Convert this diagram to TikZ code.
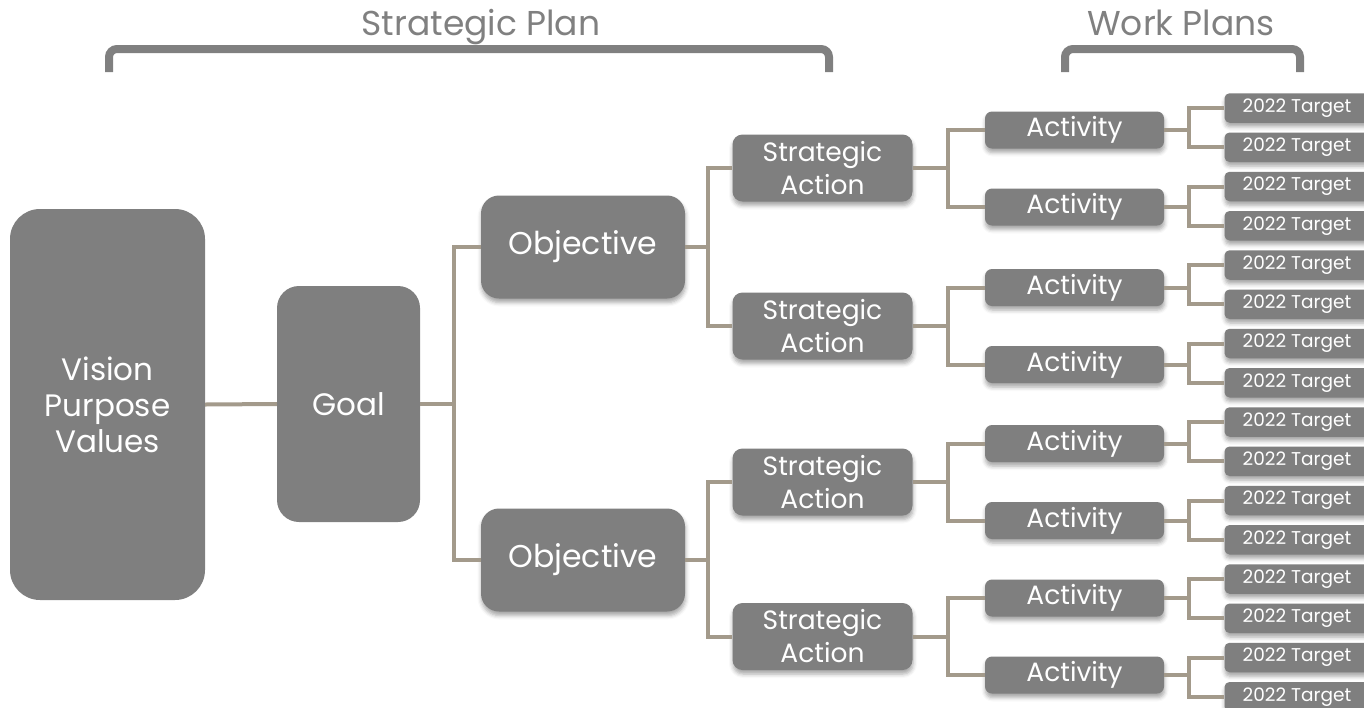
\documentclass[tikz,border=0pt]{standalone}
\usepackage{fontspec}
\setmainfont{Poppins}
\usetikzlibrary{shadows.blur,calc}
\definecolor{boxgray}{HTML}{7F7F7F}
\definecolor{linktaupe}{HTML}{A39A8B}
\definecolor{headgray}{HTML}{808080}
\tikzset{
  box/.style={rectangle, fill=boxgray, text=white, align=center, inner sep=0pt},
  shadowed/.style={blur shadow={shadow xshift=0.5pt, shadow yshift=-4pt, shadow blur radius=4pt, shadow opacity=35}},
  visbox/.style={box, minimum width=195pt, minimum height=391pt, rounded corners=30pt, font=\fontsize{31}{36}\selectfont},
  goalbox/.style={box, minimum width=143pt, minimum height=236pt, rounded corners=22pt, font=\fontsize{31}{36}\selectfont},
  objbox/.style={box, shadowed, minimum width=204pt, minimum height=103pt, rounded corners=18pt, font=\fontsize{31.5}{36}\selectfont},
  sabox/.style={box, shadowed, minimum width=180pt, minimum height=67pt, rounded corners=10pt, font=\fontsize{26.5}{33}\selectfont},
  actbox/.style={box, shadowed, minimum width=179pt, minimum height=37pt, rounded corners=7pt, font=\fontsize{26.5}{30}\selectfont},
  tgtbox/.style={box, shadowed, minimum width=145pt, minimum height=29.5pt, rounded corners=5pt, font=\fontsize{18.5}{21}\selectfont},
  link/.style={draw=linktaupe, line width=4pt},
  bracket/.style={draw=headgray, line width=8pt, rounded corners=8pt},
  headlabel/.style={text=headgray, font=\fontsize{34.5}{40}\selectfont, inner sep=0pt, anchor=base}
}
\begin{document}
\begin{tikzpicture}[x=1pt, y=-1pt]
\useasboundingbox (0,0) rectangle (1364,707);
% headers
\node[headlabel] (hsp) at (481,35) {Strategic Plan};
\node[headlabel] (hwp) at (1181,35) {Work Plans};
\draw[bracket] (109,72) -- (109,49) -- (829,49) -- (829,72);
\draw[bracket] (1065,72) -- (1065,49) -- (1300,49) -- (1300,72);
% main boxes
\node[visbox] (vis) at (107.5,404.5) {Vision\\Purpose\\Values};
\node[goalbox] (goal) at (348.5,404) {Goal};
\node[objbox] (obj1) at (583,247) {Objective};
\node[objbox] (obj2) at (583,560) {Objective};
\foreach \i/\y in {1/168,2/326,3/482,4/636.5}{
  \node[sabox] (sa\i) at (822.5,\y) {Strategic\\Action};
}
\foreach \i/\y in {1/130,2/207,3/287.5,4/364.5,5/443.5,6/520.5,7/598,8/675}{
  \node[actbox] (act\i) at (1074.5,\y) {Activity};
}
\foreach \k in {1,...,16}{
  \pgfmathsetmacro{\ty}{108+39.25*(\k-1)}
  \node[tgtbox] (t\k) at (1297,\ty) {2022 Target};
}
% connectors
\draw[link] (vis.east) -- (goal.west);
\draw[link] (goal.east) -- ++(34,0) |- (obj1.west);
\draw[link] (goal.east) -- ++(34,0) |- (obj2.west);
\draw[link] (obj1.east) -- ++(23,0) |- (sa1.west);
\draw[link] (obj1.east) -- ++(23,0) |- (sa2.west);
\draw[link] (obj2.east) -- ++(23,0) |- (sa3.west);
\draw[link] (obj2.east) -- ++(23,0) |- (sa4.west);
\foreach \s/\a/\b in {1/1/2,2/3/4,3/5/6,4/7/8}{
  \draw[link] (sa\s.east) -- ++(35.5,0) |- (act\a.west);
  \draw[link] (sa\s.east) -- ++(35.5,0) |- (act\b.west);
}
\foreach \a/\p/\q in {1/1/2,2/3/4,3/5/6,4/7/8,5/9/10,6/11/12,7/13/14,8/15/16}{
  \draw[link] (act\a.east) -- ++(25,0) |- (t\p.west);
  \draw[link] (act\a.east) -- ++(25,0) |- (t\q.west);
}
\end{tikzpicture}
\end{document}
